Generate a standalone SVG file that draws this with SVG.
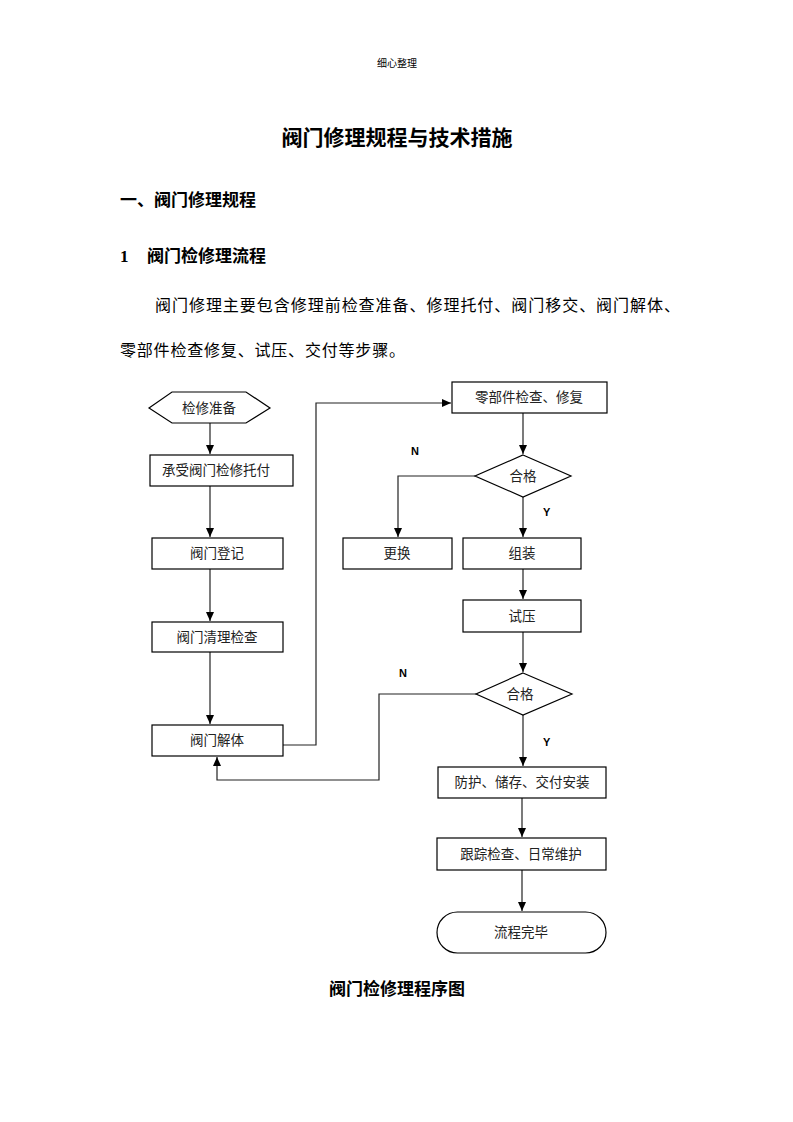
<svg xmlns="http://www.w3.org/2000/svg" width="793" height="1122" viewBox="0 0 793 1122">
<defs>
<marker id="ah" markerWidth="10" markerHeight="8" refX="9" refY="4" orient="auto" markerUnits="userSpaceOnUse">
<path d="M0,0 L9,4 L0,8 Z" fill="#000"/>
</marker>
<style>
.shape{fill:#fff;stroke:#000;stroke-width:1.2}
.conn{fill:none;stroke:#222;stroke-width:1.2}
.t{font-family:"Liberation Serif","Noto Sans CJK SC",serif;font-size:13.5px;fill:#222;text-anchor:middle}
.lbl{font-family:"Liberation Sans",Arial,sans-serif;font-size:11px;font-weight:bold;fill:#000}
.doc{font-family:"Liberation Serif","Noto Sans CJK SC",serif;fill:#000}
.b{font-weight:bold}
</style>
</defs>
<rect width="793" height="1122" fill="#fff"/>
<text class="doc" x="397" y="67" font-size="10" text-anchor="middle" fill="#333">细心整理</text>
<text class="doc b" x="397" y="145" font-size="21" text-anchor="middle">阀门修理规程与技术措施</text>
<text class="doc b" x="120" y="206" font-size="17">一、阀门修理规程</text>
<text class="doc b" x="120" y="262" font-size="17">1</text>
<text class="doc b" x="147" y="262" font-size="17">阀门检修理流程</text>
<text class="doc" x="155" y="311" font-size="16" textLength="525" lengthAdjust="spacing">阀门修理主要包含修理前检查准备、修理托付、阀门移交、阀门解体、</text>
<text class="doc" x="120" y="356" font-size="16" textLength="285" lengthAdjust="spacing">零部件检查修复、试压、交付等步骤。</text>

<g id="connectors">
<line class="conn" x1="210" y1="423" x2="210" y2="454" marker-end="url(#ah)"/>
<line class="conn" x1="210" y1="486" x2="210" y2="537" marker-end="url(#ah)"/>
<line class="conn" x1="210" y1="569" x2="210" y2="621" marker-end="url(#ah)"/>
<line class="conn" x1="210" y1="652" x2="210" y2="724" marker-end="url(#ah)"/>
<polyline class="conn" points="283,745 316,745 316,403 451,403" marker-end="url(#ah)"/>
<line class="conn" x1="523" y1="413" x2="523" y2="454" marker-end="url(#ah)"/>
<polyline class="conn" points="475,476 398,476 398,537" marker-end="url(#ah)"/>
<line class="conn" x1="523" y1="497" x2="523" y2="537" marker-end="url(#ah)"/>
<line class="conn" x1="523" y1="569" x2="523" y2="599" marker-end="url(#ah)"/>
<line class="conn" x1="523" y1="632" x2="523" y2="672" marker-end="url(#ah)"/>
<polyline class="conn" points="476,694 379,694 379,780 217,780 217,757" marker-end="url(#ah)"/>
<line class="conn" x1="523" y1="715" x2="523" y2="766" marker-end="url(#ah)"/>
<line class="conn" x1="522" y1="798" x2="522" y2="837" marker-end="url(#ah)"/>
<line class="conn" x1="522" y1="870" x2="522" y2="911" marker-end="url(#ah)"/>
<text class="lbl" x="411" y="455">N</text>
<text class="lbl" x="543" y="516">Y</text>
<text class="lbl" x="399" y="677">N</text>
<text class="lbl" x="543" y="746">Y</text>
</g>

<g id="n-prep">
<polygon class="shape" points="149,408 172,392 246,392 270,408 246,423 172,423"/>
<text class="t" x="209" y="412.5">检修准备</text>
</g>
<g id="n-accept">
<rect class="shape" x="150" y="455" width="143" height="31"/>
<text class="t" x="216" y="475">承受阀门检修托付</text>
</g>
<g id="n-register">
<rect class="shape" x="152" y="538" width="131" height="31"/>
<text class="t" x="217" y="558">阀门登记</text>
</g>
<g id="n-clean">
<rect class="shape" x="152" y="622" width="131" height="30"/>
<text class="t" x="217" y="641.5">阀门清理检查</text>
</g>
<g id="n-disasm">
<rect class="shape" x="152" y="725" width="131" height="31"/>
<text class="t" x="217" y="745">阀门解体</text>
</g>
<g id="n-parts">
<rect class="shape" x="452" y="382" width="155" height="31"/>
<text class="t" x="529" y="402">零部件检查、修复</text>
</g>
<g id="n-check1">
<polygon class="shape" points="523,455 571,476 523,497 475,476"/>
<text class="t" x="523" y="480.5">合格</text>
</g>
<g id="n-replace">
<rect class="shape" x="343" y="538" width="109" height="31"/>
<text class="t" x="397" y="558">更换</text>
</g>
<g id="n-assemble">
<rect class="shape" x="463" y="538" width="118" height="31"/>
<text class="t" x="522" y="558">组装</text>
</g>
<g id="n-test">
<rect class="shape" x="463" y="600" width="118" height="32"/>
<text class="t" x="522" y="620.5">试压</text>
</g>
<g id="n-check2">
<polygon class="shape" points="523,673 572,694 523,715 476,694"/>
<text class="t" x="520" y="698.5">合格</text>
</g>
<g id="n-protect">
<rect class="shape" x="438" y="767" width="168" height="31"/>
<text class="t" x="522" y="787">防护、储存、交付安装</text>
</g>
<g id="n-track">
<rect class="shape" x="437" y="838" width="169" height="32"/>
<text class="t" x="521" y="858.5">跟踪检查、日常维护</text>
</g>
<g id="n-end">
<rect class="shape" x="437" y="912" width="169" height="41" rx="20.5" ry="20.5"/>
<text class="t" x="521" y="937">流程完毕</text>
</g>

<text class="doc b" x="397" y="995" font-size="17" text-anchor="middle">阀门检修理程序图</text>
</svg>
